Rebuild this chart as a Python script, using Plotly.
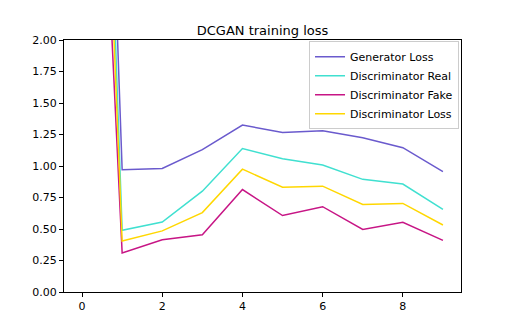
import plotly.graph_objects as go

epochs = [0, 1, 2, 3, 4, 5, 6, 7, 8, 9]
gen_loss = [10.0, 0.97, 0.98, 1.13, 1.325, 1.265, 1.28, 1.225, 1.145, 0.955]
disc_real = [9.5, 0.49, 0.555, 0.80, 1.138, 1.058, 1.008, 0.894, 0.857, 0.655]
disc_fake = [7.0, 0.31, 0.415, 0.455, 0.813, 0.607, 0.677, 0.497, 0.553, 0.41]
disc_loss = [8.3, 0.405, 0.485, 0.63, 0.975, 0.832, 0.84, 0.695, 0.703, 0.532]

series = [
    ("Generator Loss", gen_loss, "#6A5ACD"),
    ("Discriminator Real", disc_real, "#40E0D0"),
    ("Discriminator Fake", disc_fake, "#C71585"),
    ("Discriminator Loss", disc_loss, "#FFD700"),
]

font = "DejaVu Sans"
fig = go.Figure()
for name, vals, color in series:
    fig.add_trace(go.Scatter(x=epochs, y=vals, mode="lines", name=name,
                             line=dict(color=color, width=1.5)))

fig.update_layout(
    width=512, height=328,
    margin=dict(l=64, r=51, t=40, b=36),
    paper_bgcolor="white", plot_bgcolor="white",
    font=dict(family=font, size=11, color="black"),
    title=dict(text="DCGAN training loss", x=0.5, xref="paper", xanchor="center",
               y=1, yref="paper", yanchor="bottom", pad=dict(b=5),
               font=dict(family=font, size=13, color="black")),
    showlegend=True,
    legend=dict(x=0.995, xanchor="right", y=0.995, yanchor="top",
                bgcolor="rgba(255,255,255,0.8)", bordercolor="#cccccc", borderwidth=1,
                font=dict(family=font, size=11, color="black"),
                tracegroupgap=0, itemwidth=30),
)
fig.update_xaxes(range=[-0.45, 9.45], tickvals=[0, 2, 4, 6, 8], ticktext=["0", "2", "4", "6", "8"],
                 showgrid=False, zeroline=False, showline=True, linecolor="black", linewidth=1,
                 mirror=True, ticks="outside", ticklen=4, tickcolor="black", tickwidth=1)
fig.update_yaxes(range=[0, 2], tickvals=[0, 0.25, 0.5, 0.75, 1.0, 1.25, 1.5, 1.75, 2.0],
                 tickformat=".2f",
                 showgrid=False, zeroline=False, showline=True, linecolor="black", linewidth=1,
                 mirror=True, ticks="outside", ticklen=4, tickcolor="black", tickwidth=1)

fig.write_html("out.html")
